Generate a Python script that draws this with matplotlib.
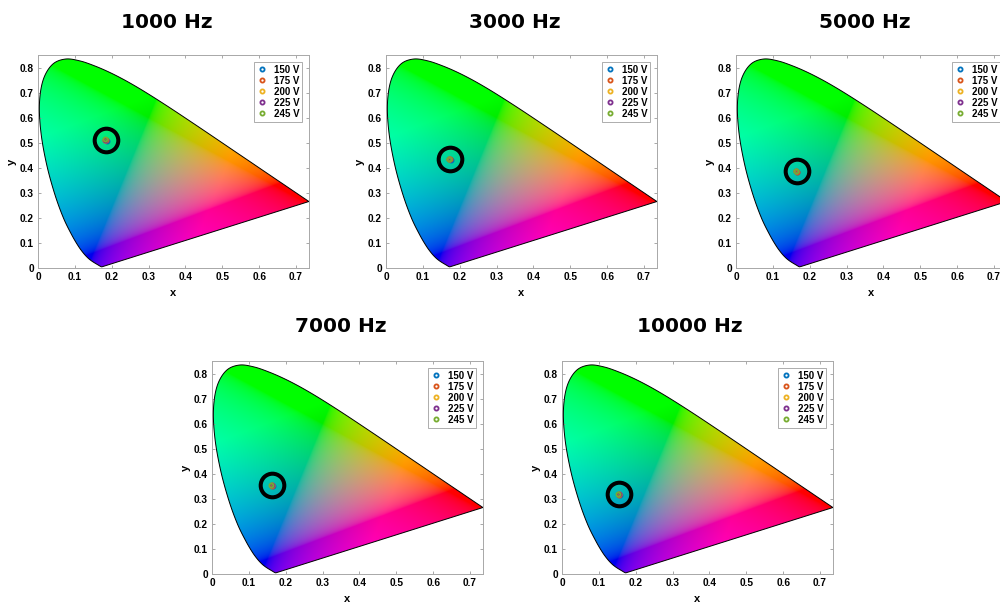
import numpy as np
import matplotlib
matplotlib.use("Agg")
import matplotlib.pyplot as plt
from matplotlib.patches import Polygon

plt.rcParams["font.family"] = ["Liberation Sans", "DejaVu Sans"]

freqs = ["1000 Hz", "3000 Hz", "5000 Hz", "7000 Hz", "10000 Hz"]
voltages = ["150 V", "175 V", "200 V", "225 V", "245 V"]
volt_colors = ["#0072BD", "#D95319", "#EDB120", "#7E2F8E", "#77AC30"]

# measured CIE 1931 (x, y), one value per voltage
x_1000 = [0.188, 0.184, 0.183, 0.182, 0.181]
y_1000 = [0.506, 0.510, 0.511, 0.512, 0.513]
x_3000 = [0.175, 0.173, 0.172, 0.172, 0.171]
y_3000 = [0.432, 0.434, 0.435, 0.435, 0.436]
x_5000 = [0.166, 0.165, 0.164, 0.164, 0.163]
y_5000 = [0.384, 0.385, 0.386, 0.386, 0.387]
x_7000 = [0.165, 0.163, 0.162, 0.162, 0.161]
y_7000 = [0.352, 0.353, 0.354, 0.354, 0.354]
x_10000 = [0.157, 0.155, 0.154, 0.154, 0.153]
y_10000 = [0.316, 0.317, 0.318, 0.318, 0.318]

xs_all = [x_1000, x_3000, x_5000, x_7000, x_10000]
ys_all = [y_1000, y_3000, y_5000, y_7000, y_10000]

# CIE 1931 2 deg spectral locus, 380-700 nm
locus_x = [0.1741, 0.1740, 0.1738, 0.1736, 0.1733, 0.1730, 0.1726, 0.1721, 0.1714,
           0.1703, 0.1689, 0.1669, 0.1644, 0.1611, 0.1566, 0.1510, 0.1440, 0.1355,
           0.1241, 0.1096, 0.0913, 0.0687, 0.0454, 0.0235, 0.0082, 0.0039, 0.0139,
           0.0389, 0.0743, 0.1142, 0.1547, 0.1929, 0.2296, 0.2658, 0.3016, 0.3373,
           0.3731, 0.4087, 0.4441, 0.4788, 0.5125, 0.5448, 0.5752, 0.6029, 0.6270,
           0.6482, 0.6658, 0.6801, 0.6915, 0.7006, 0.7079, 0.7140, 0.7190, 0.7230,
           0.7260, 0.7283, 0.7300, 0.7311, 0.7320, 0.7334, 0.7344, 0.7347]
locus_y = [0.0050, 0.0050, 0.0049, 0.0049, 0.0048, 0.0048, 0.0048, 0.0048, 0.0051,
           0.0058, 0.0069, 0.0086, 0.0109, 0.0138, 0.0177, 0.0227, 0.0297, 0.0399,
           0.0578, 0.0868, 0.1327, 0.2007, 0.2950, 0.4127, 0.5384, 0.6548, 0.7502,
           0.8120, 0.8338, 0.8262, 0.8059, 0.7816, 0.7543, 0.7243, 0.6923, 0.6589,
           0.6245, 0.5896, 0.5547, 0.5202, 0.4866, 0.4544, 0.4242, 0.3965, 0.3725,
           0.3514, 0.3340, 0.3197, 0.3083, 0.2993, 0.2920, 0.2859, 0.2809, 0.2770,
           0.2740, 0.2717, 0.2700, 0.2689, 0.2680, 0.2666, 0.2656, 0.2653]

XMAX, YMAX = 0.735, 0.85


def smooth_outline(px, py, steps=16):
    # Catmull-Rom through the locus points so the edge draws as a curve
    p = np.column_stack([px, py])
    p = np.vstack([p[0], p, p[-1]])
    out = []
    t = np.linspace(0, 1, steps, endpoint=False)[:, None]
    for k in range(1, len(p) - 2):
        p0, p1, p2, p3 = p[k - 1], p[k], p[k + 1], p[k + 2]
        seg = 0.5 * ((2 * p1) + (-p0 + p2) * t + (2 * p0 - 5 * p1 + 4 * p2 - p3) * t ** 2
                     + (-p0 + 3 * p1 - 3 * p2 + p3) * t ** 3)
        out.append(seg)
    out.append(p[-2][None, :])
    return np.vstack(out)


outline = smooth_outline(locus_x, locus_y)

# chromaticity colour fill (xyz -> sRGB, clipped)
gx = np.linspace(0, XMAX, 500)
gy = np.linspace(0, YMAX, 580)
GX, GY = np.meshgrid(gx, gy)
xyz = np.stack([GX, GY, 1 - GX - GY], axis=-1)
M = np.array([[3.2406, -1.5372, -0.4986],
              [-0.9689, 1.8758, 0.0415],
              [0.0557, -0.2040, 1.0570]])
rgb = np.clip(xyz @ M.T, 0, 1)
rgb = np.where(rgb <= 0.0031308, 12.92 * rgb, 1.055 * rgb ** (1 / 2.4) - 0.055)

W, H = 1000, 602
fig = plt.figure(figsize=(10, 6.02), dpi=100)

# axes left / top in pixels, title centre
panels = [(38, 55, 167, 22), (386, 55, 515, 22), (736, 55, 865, 22),
          (212, 361, 341, 326), (562, 361, 690, 326)]
aw, ah = 271, 213

for i, (lp, tp, tx, ty) in enumerate(panels):
    ax = fig.add_axes([lp / W, 1 - (tp + ah) / H, aw / W, ah / H])
    poly = Polygon(outline, closed=True, facecolor="none", edgecolor="black",
                   lw=0.7, zorder=3)
    im = ax.imshow(rgb, origin="lower", extent=[0, XMAX, 0, YMAX], aspect="auto",
                   interpolation="bilinear", zorder=1)
    ax.add_patch(poly)
    im.set_clip_path(poly)

    xs, ys = xs_all[i], ys_all[i]
    for v in range(len(voltages)):
        ax.plot(xs[v], ys[v], "o", ms=3, mew=1.3, mfc="none", color=volt_colors[v],
                label=voltages[v], zorder=4)
    ax.plot(np.mean(xs), np.mean(ys), "o", ms=17, mew=2.9, mfc="none",
            color="black", zorder=5)

    ax.set_xlim(0, XMAX)
    ax.set_ylim(0, YMAX)
    ax.set_xticks(np.arange(0, 0.71, 0.1))
    ax.set_yticks(np.arange(0, 0.81, 0.1))
    ax.set_xticklabels(["0"] + ["%.1f" % t for t in np.arange(0.1, 0.71, 0.1)])
    ax.set_yticklabels(["0"] + ["%.1f" % t for t in np.arange(0.1, 0.81, 0.1)])
    ax.tick_params(direction="in", length=2.5, width=0.6, color="#9a9a9a",
                   top=True, right=True, labelsize=7.3, pad=3)
    for lab in ax.get_xticklabels() + ax.get_yticklabels():
        lab.set_fontweight("bold")
    for s in ax.spines.values():
        s.set_color("#a8a8a8")
        s.set_linewidth(0.7)
    ax.set_xlabel("x", fontsize=8, fontweight="bold", labelpad=4)
    ax.set_ylabel("y", fontsize=8, fontweight="bold", labelpad=2)

    leg = ax.legend(loc="upper right", prop={"size": 7, "weight": "bold"},
                    fancybox=False, edgecolor="#a0a0a0", framealpha=1,
                    borderpad=0.3, handlelength=0.9, handletextpad=0.8,
                    labelspacing=0.1, borderaxespad=0.7)
    leg.get_frame().set_linewidth(0.6)

    fig.text(tx / W, 1 - ty / H, freqs[i], ha="center", va="center",
             fontsize=14.5, fontweight="bold", family="DejaVu Sans")

fig.savefig("out.png", dpi=100)
